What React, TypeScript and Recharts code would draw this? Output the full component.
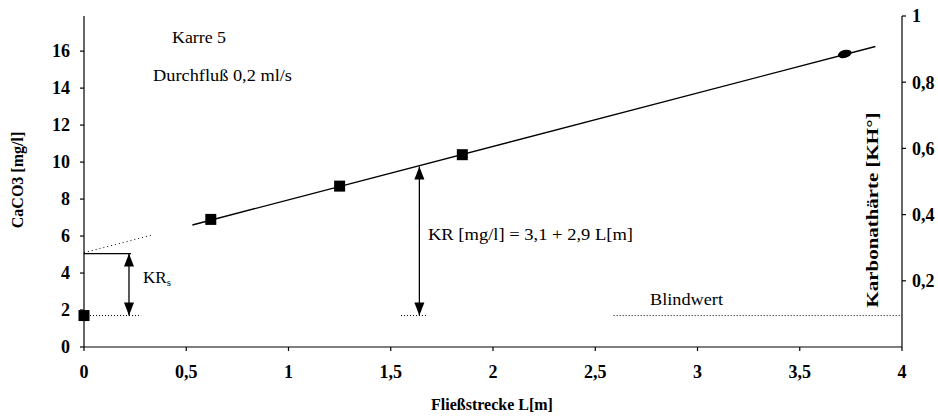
import React from 'react';
import {
  ComposedChart,
  Line,
  Scatter,
  XAxis,
  YAxis,
  ReferenceLine,
} from 'recharts';

// measured values (CaCO3 in mg/l along the flow path)
const measured = [
  { x: 0, y: 1.7 },
  { x: 0.62, y: 6.9 },
  { x: 1.25, y: 8.7 },
  { x: 1.85, y: 10.4 },
];

const endPoint = [{ x: 3.72, y: 15.85 }];

// regression line, solid part and dotted extrapolation to L = 0
const fitSolid = [
  { x: 0.53, y: 6.6 },
  { x: 3.87, y: 16.25 },
];
const fitDotted = [
  { x: 0, y: 5.1 },
  { x: 0.33, y: 6.05 },
];

const blank = 1.7;
const blankSegments = [
  [0, 0.28],
  [1.55, 1.68],
  [2.59, 4],
];

const krsX = 0.22;
const krsTop = 5.05;
const krX = 1.64;
const krTop = 9.76;

const xTicks = [0, 0.5, 1, 1.5, 2, 2.5, 3, 3.5, 4];
const leftTicks = [0, 2, 4, 6, 8, 10, 12, 14, 16];
const rightTicks = [0.2, 0.4, 0.6, 0.8, 1];
// hardness scale range (KH°), only used to span the right axis
const rightRange = [
  { x: 0, kh: 0 },
  { x: 4, kh: 1 },
];

const upTips = [
  { x: krsX, y: krsTop },
  { x: krX, y: krTop },
];
const downTips = [
  { x: krsX, y: blank },
  { x: krX, y: blank },
];

const FONT = '"Liberation Serif", "Times New Roman", serif';
const comma = (v: number) => String(v).replace('.', ',');

const makeTick = (anchor: 'start' | 'middle' | 'end', dy: string) => (p: any) => (
  <text
    x={p.x}
    y={p.y}
    dy={dy}
    textAnchor={anchor}
    fontFamily={FONT}
    fontSize={18}
    fontWeight={700}
    fill="#000"
  >
    {comma(p.payload.value)}
  </text>
);

const Square = (p: any) => (
  <rect x={p.cx - 5.5} y={p.cy - 5.5} width={11} height={11} fill="#000" />
);
const Blob = (p: any) => (
  <ellipse cx={p.cx} cy={p.cy} rx={7} ry={4} fill="#000" transform={`rotate(-15 ${p.cx} ${p.cy})`} />
);
const ArrowUp = (p: any) => (
  <polygon points={`${p.cx},${p.cy} ${p.cx - 5},${p.cy + 13} ${p.cx + 5},${p.cy + 13}`} fill="#000" />
);
const ArrowDown = (p: any) => (
  <polygon points={`${p.cx},${p.cy} ${p.cx - 5},${p.cy - 13} ${p.cx + 5},${p.cy - 13}`} fill="#000" />
);

export default function App() {
  return (
    <div style={{ position: 'absolute', left: 0, top: 0, width: 938, height: 420, background: '#fff' }}>
      <ComposedChart width={938} height={420} margin={{ top: 16, right: 0, bottom: 0, left: 0 }}>
        <XAxis
          dataKey="x"
          type="number"
          domain={[0, 4]}
          ticks={xTicks}
          stroke="#000"
          strokeWidth={1.2}
          tickSize={4}
          tickMargin={14}
          tick={makeTick('middle', '0.72em')}
          height={73}
        />
        <YAxis
          yAxisId="left"
          dataKey="y"
          type="number"
          domain={[0, 17.9]}
          ticks={leftTicks}
          stroke="#000"
          strokeWidth={1.2}
          tickSize={4}
          tickMargin={10}
          tick={makeTick('end', '0.35em')}
          width={84}
        />
        <YAxis
          yAxisId="right"
          orientation="right"
          dataKey="kh"
          type="number"
          domain={[0, 1]}
          ticks={rightTicks}
          stroke="#000"
          strokeWidth={1.2}
          tickSize={4}
          tickMargin={6}
          tick={makeTick('start', '0.35em')}
          width={36}
        />

        {blankSegments.map(([a, b], i) => (
          <ReferenceLine
            key={i}
            yAxisId="left"
            segment={[{ x: a, y: blank }, { x: b, y: blank }]}
            stroke="#000"
            strokeWidth={1}
            strokeDasharray="1 2"
          />
        ))}
        <ReferenceLine
          yAxisId="left"
          segment={[{ x: 0, y: krsTop }, { x: 0.23, y: krsTop }]}
          stroke="#000"
          strokeWidth={1.2}
        />
        <ReferenceLine
          yAxisId="left"
          segment={[{ x: krsX, y: blank }, { x: krsX, y: krsTop }]}
          stroke="#000"
          strokeWidth={1.3}
        />
        <ReferenceLine
          yAxisId="left"
          segment={[{ x: krX, y: blank }, { x: krX, y: krTop }]}
          stroke="#000"
          strokeWidth={1.3}
        />

        <Line
          yAxisId="right"
          data={rightRange}
          dataKey="kh"
          stroke="none"
          dot={false}
          activeDot={false}
          isAnimationActive={false}
        />
        <Line
          yAxisId="left"
          data={fitDotted}
          dataKey="y"
          stroke="#000"
          strokeWidth={1}
          strokeDasharray="1 3"
          dot={false}
          isAnimationActive={false}
        />
        <Line
          yAxisId="left"
          data={fitSolid}
          dataKey="y"
          stroke="#000"
          strokeWidth={1.4}
          dot={false}
          isAnimationActive={false}
        />
        <Scatter yAxisId="left" data={measured} shape={Square} isAnimationActive={false} />
        <Scatter yAxisId="left" data={endPoint} shape={Blob} isAnimationActive={false} />
        <Scatter yAxisId="left" data={upTips} shape={ArrowUp} isAnimationActive={false} />
        <Scatter yAxisId="left" data={downTips} shape={ArrowDown} isAnimationActive={false} />
      </ComposedChart>

      <svg
        width={938}
        height={420}
        style={{ position: 'absolute', left: 0, top: 0, pointerEvents: 'none' }}
        fontFamily={FONT}
      >
        <text x={172} y={43} fontSize={17} textLength={54} lengthAdjust="spacingAndGlyphs">Karre 5</text>
        <text x={153} y={81} fontSize={17} textLength={139} lengthAdjust="spacingAndGlyphs">Durchfluß 0,2 ml/s</text>
        <text x={143} y={283} fontSize={17}>
          KR<tspan fontSize={11} dy={3}>s</tspan>
        </text>
        <text x={428} y={240} fontSize={17} textLength={205} lengthAdjust="spacingAndGlyphs">KR [mg/l] = 3,1 + 2,9  L[m]</text>
        <text x={650} y={305} fontSize={17} textLength={73} lengthAdjust="spacingAndGlyphs">Blindwert</text>

        <text x={492} y={410} fontSize={16} fontWeight={700} textAnchor="middle">Fließstrecke L[m]</text>
        <text
          x={0}
          y={0}
          fontSize={16}
          fontWeight={700}
          textAnchor="middle"
          transform="translate(23 180) rotate(-90)"
        >
          CaCO3 [mg/l]
        </text>
        <text
          x={0}
          y={0}
          fontSize={17}
          fontWeight={700}
          textAnchor="middle"
          textLength={195}
          lengthAdjust="spacingAndGlyphs"
          transform="translate(878 210) rotate(-90)"
        >
          Karbonathärte [KH°]
        </text>
      </svg>
    </div>
  );
}
